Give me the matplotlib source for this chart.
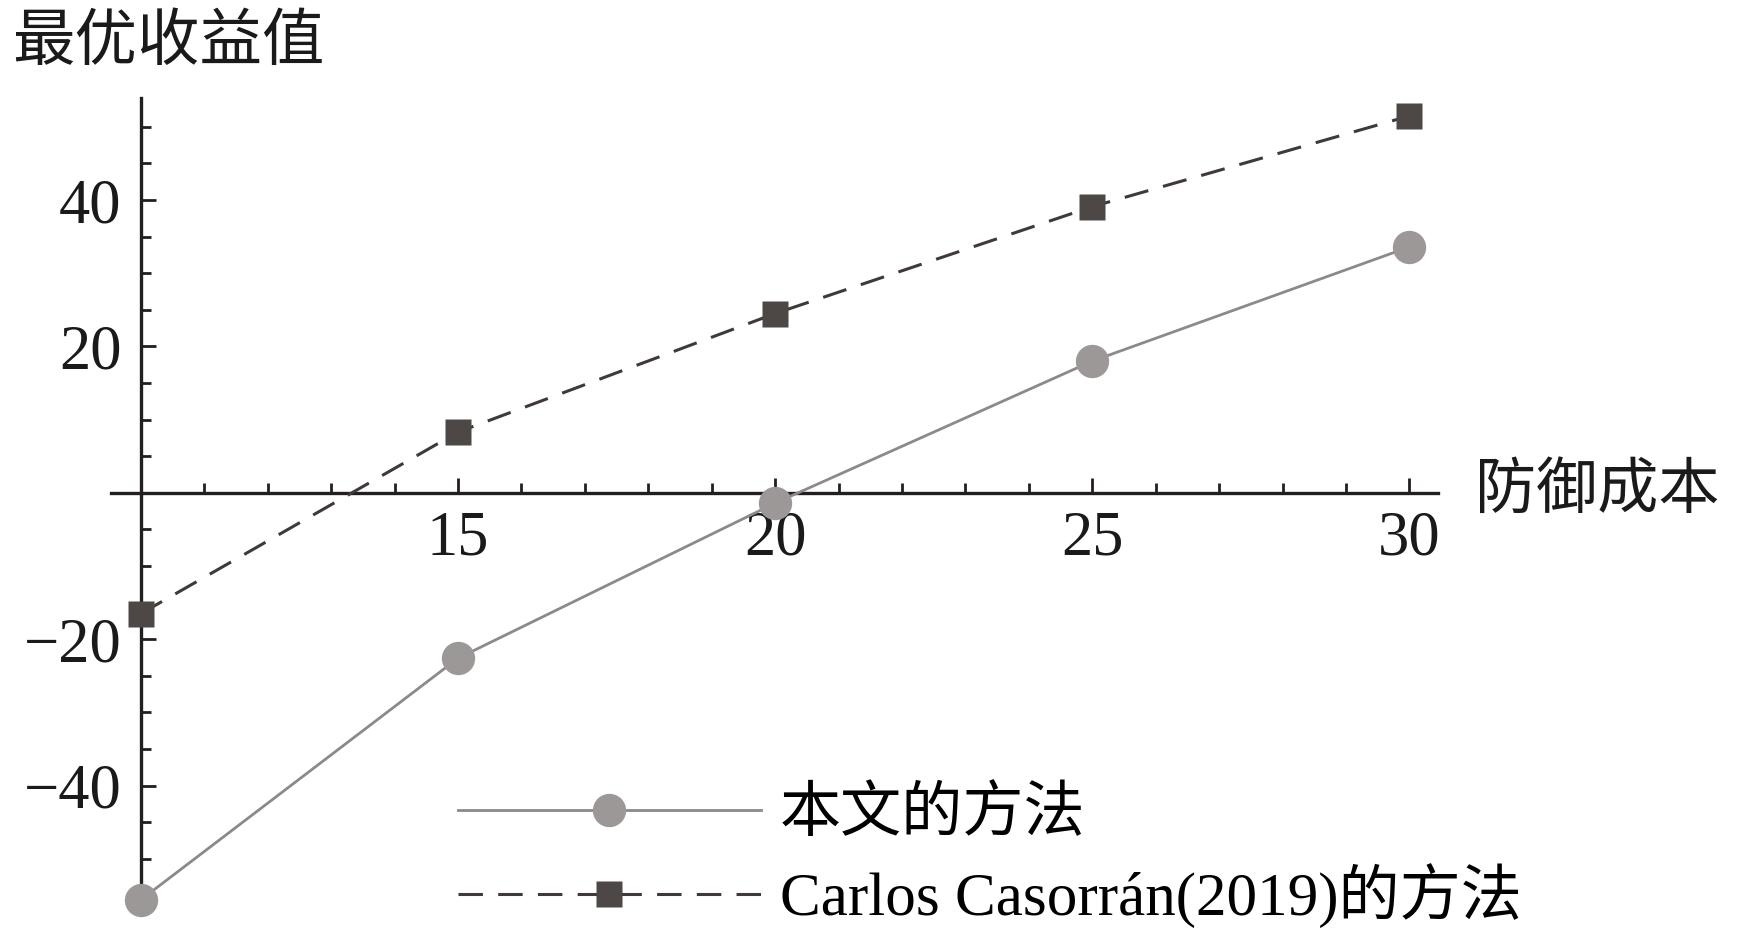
import matplotlib
matplotlib.use("Agg")
import matplotlib.pyplot as plt
from matplotlib.ticker import FixedLocator, MultipleLocator

# ---------------------------------------------------------------------------
# Data
# ---------------------------------------------------------------------------
cost = [10, 15, 20, 25, 30]
ours = [-55.6, -22.6, -1.4, 18.0, 33.6]
casorran = [-16.5, 8.3, 24.5, 39.1, 51.5]

x_ticks = [15, 20, 25, 30]
y_ticks = [-40, -20, 20, 40]

label_ours = "本文的方法"
label_casorran = "Carlos Casorrán(2019)的方法"
x_title = "防御成本"
y_title = "最优收益值"

# ---------------------------------------------------------------------------
# Figure
# ---------------------------------------------------------------------------
plt.rcParams["font.family"] = ["Liberation Serif", "Noto Sans CJK SC"]
plt.rcParams["axes.unicode_minus"] = True

W, H = 1739, 931
fig = plt.figure(figsize=(W / 100, H / 100), dpi=100)
ax = fig.add_axes([111 / W, 18 / H, (1438 - 111) / W, (913 - 97.6) / H])
ax.set_xlim(9.53, 30.45)
ax.set_ylim(-57.4, 54.0)

axis_col = "#231f20"
for side in ("top", "right"):
    ax.spines[side].set_visible(False)
ax.spines["left"].set_position(("data", 10))
ax.spines["bottom"].set_position(("data", 0))
for side in ("left", "bottom"):
    ax.spines[side].set_linewidth(2.4)
    ax.spines[side].set_color(axis_col)

ax.xaxis.set_major_locator(FixedLocator(x_ticks))
ax.xaxis.set_minor_locator(MultipleLocator(1))
ax.yaxis.set_major_locator(FixedLocator(y_ticks))
ax.yaxis.set_minor_locator(MultipleLocator(5))

ax.tick_params(which="both", direction="in", color=axis_col, width=2.0,
               labelsize=45, labelcolor="#1a1a1a")
ax.tick_params(which="major", length=11)
ax.tick_params(which="minor", length=7.5)
ax.tick_params(axis="x", pad=13)
ax.tick_params(axis="y", pad=14)

# ── series ──────────────────────────────────────────────────────────────────
ax.plot(cost, ours, color="#8e8989", lw=2.0, marker="o", ms=24,
        mfc="#9d9898", mec="none", clip_on=False, zorder=3, label=label_ours)
ax.plot(cost, casorran, color="#3f3a39", lw=2.2, ls=(0, (8, 5)), marker="s",
        ms=19, mfc="#4d4746", mec="none", clip_on=False, zorder=3,
        label=label_casorran)

# ── axis titles ─────────────────────────────────────────────────────────────
ax.text(1.028, 0, x_title, transform=ax.get_yaxis_transform(),
        va="center", ha="left", fontsize=44, color="#1a1a1a")
fig.text(12 / W, 1 - 45 / H, y_title, va="center", ha="left",
         fontsize=45, color="#1a1a1a")

# ── legend ──────────────────────────────────────────────────────────────────
fig.legend(loc="center left", bbox_to_anchor=(458 / W, 1 - 858 / H),
           bbox_transform=fig.transFigure, frameon=False, fontsize=44,
           handlelength=4.95, handletextpad=0.32, labelspacing=0.32,
           borderpad=0, borderaxespad=0, numpoints=1)

fig.savefig("out.png", dpi=100)
